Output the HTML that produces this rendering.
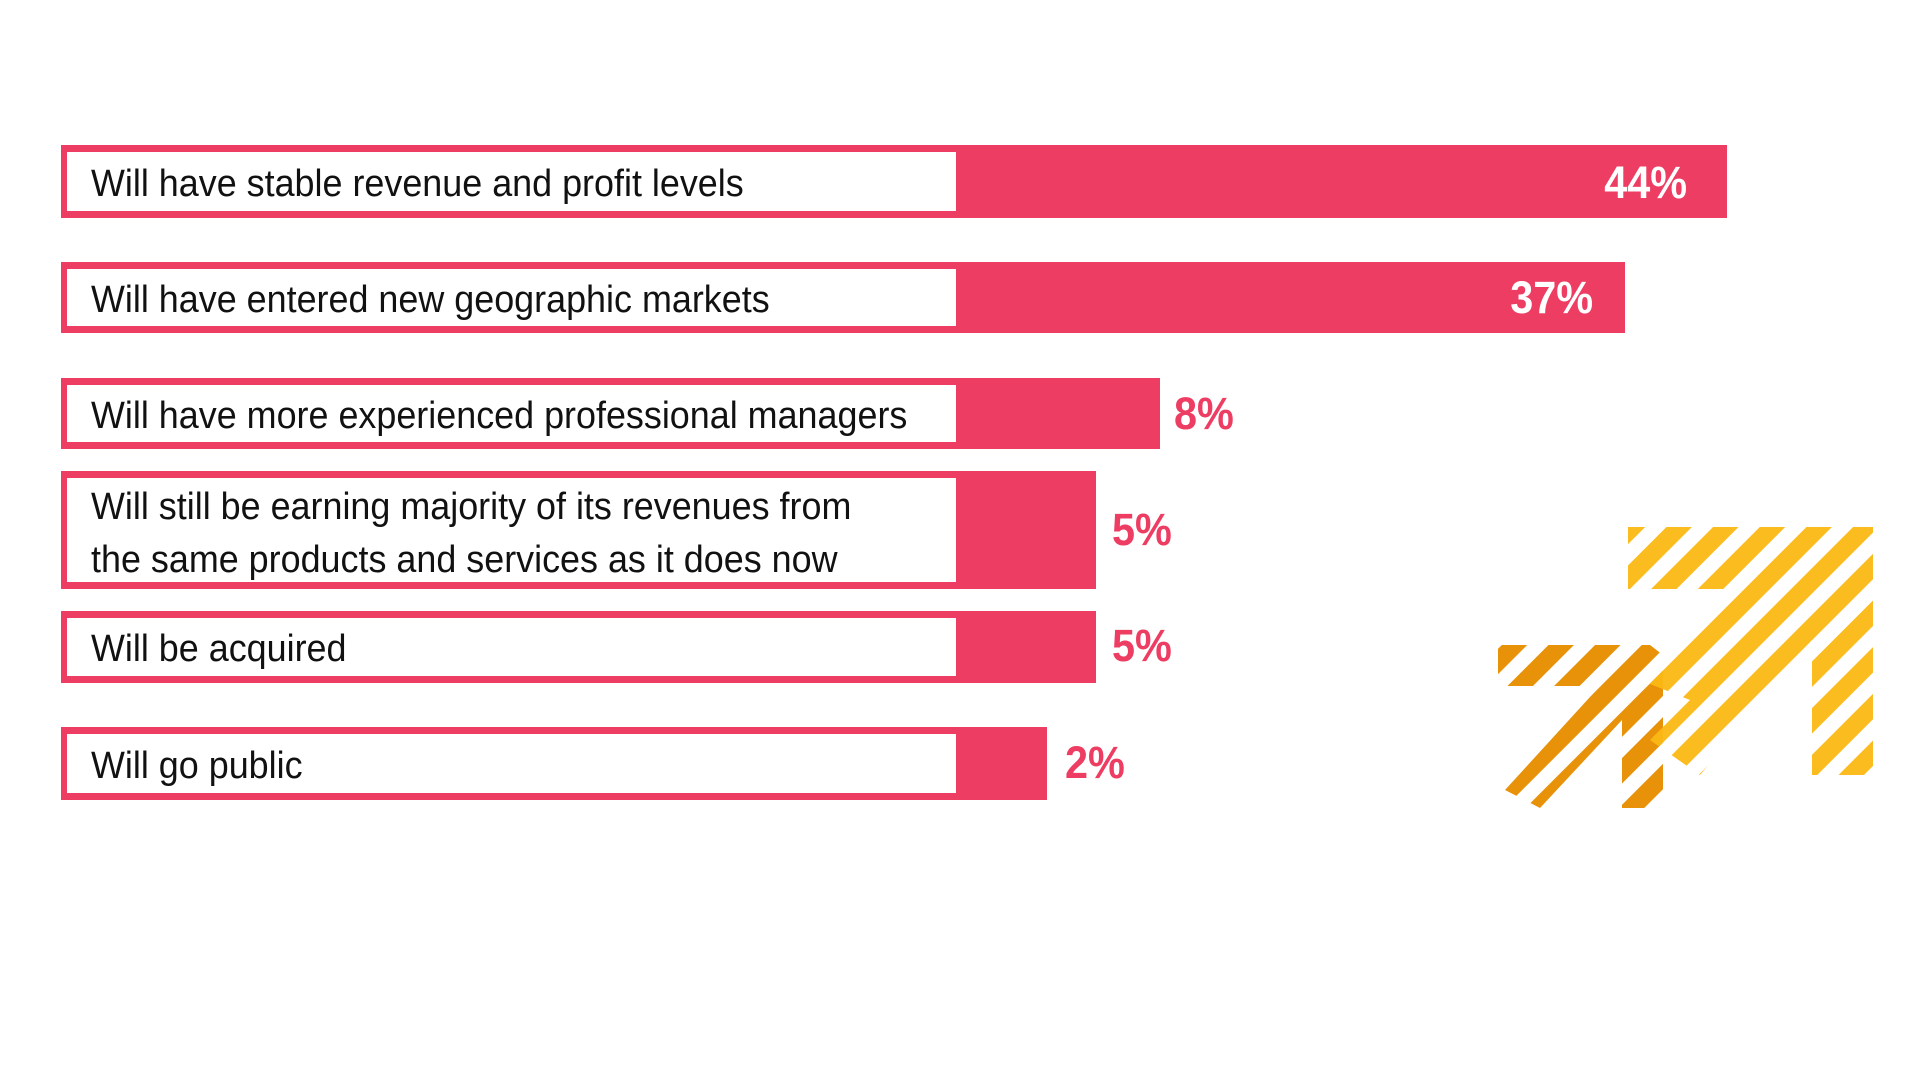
<!DOCTYPE html>
<html><head><meta charset="utf-8"><style>
body{margin:0;width:1920px;height:1080px;background:#fff;position:relative;overflow:hidden;font-family:"Liberation Sans",sans-serif}
.bar{position:absolute;left:61px;background:#ee3d63}
.box{position:absolute;left:6px;top:7px;bottom:7px;width:889px;background:#fff}
.t{position:absolute;left:24px;font-size:38px;color:#111;transform:scaleX(0.945);transform-origin:left center;white-space:nowrap;line-height:53px}
.v{position:absolute;font-size:45px;font-weight:bold;transform:scaleX(0.92);white-space:nowrap}
.w{color:#fff;transform-origin:right center}
.p{color:#ee3d63;transform-origin:left center}
</style></head><body>
<div class="bar" style="top:145px;height:73px;width:1666px"><div class="box"><div class="t" style="top:6px">Will have stable revenue and profit levels</div></div></div>
<div class="v w" style="right:233px;top:157px">44%</div>
<div class="bar" style="top:262px;height:71px;width:1564px"><div class="box"><div class="t" style="top:5px">Will have entered new geographic markets</div></div></div>
<div class="v w" style="right:327px;top:272px">37%</div>
<div class="bar" style="top:378px;height:71px;width:1099px"><div class="box"><div class="t" style="top:5px">Will have more experienced professional managers</div></div></div>
<div class="v p" style="left:1174px;top:388px">8%</div>
<div class="bar" style="top:471px;height:118px;width:1035px"><div class="box"><div class="t" style="top:3px">Will still be earning majority of its revenues from</div><div class="t" style="top:56px">the same products and services as it does now</div></div></div>
<div class="v p" style="left:1112px;top:504px">5%</div>
<div class="bar" style="top:611px;height:72px;width:1035px"><div class="box"><div class="t" style="top:5px">Will be acquired</div></div></div>
<div class="v p" style="left:1112px;top:620px">5%</div>
<div class="bar" style="top:727px;height:73px;width:986px"><div class="box"><div class="t" style="top:6px">Will go public</div></div></div>
<div class="v p" style="left:1065px;top:737px">2%</div>
<svg width="1920" height="1080" style="position:absolute;left:0;top:0">
<defs>
<pattern id="py" width="33" height="33" patternUnits="userSpaceOnUse" patternTransform="rotate(45)"><rect width="18" height="33" fill="#fbb813"/></pattern>
<pattern id="po" width="33" height="33" patternUnits="userSpaceOnUse" patternTransform="rotate(45)"><rect width="18" height="33" fill="#e8920a"/></pattern>
</defs>
<polygon fill="url(#po)" points="1498,645 1650,645 1663,655 1663,808 1622,808 1622,720 1540,808 1505,790 1600,686 1498,686"/>
<polygon fill="url(#py)" opacity="0.95" points="1628,527 1873,527 1873,775 1812,775 1812,640 1700,775 1650,740 1690,700 1640,680 1730,589 1628,589"/>
</svg>
</body></html>
